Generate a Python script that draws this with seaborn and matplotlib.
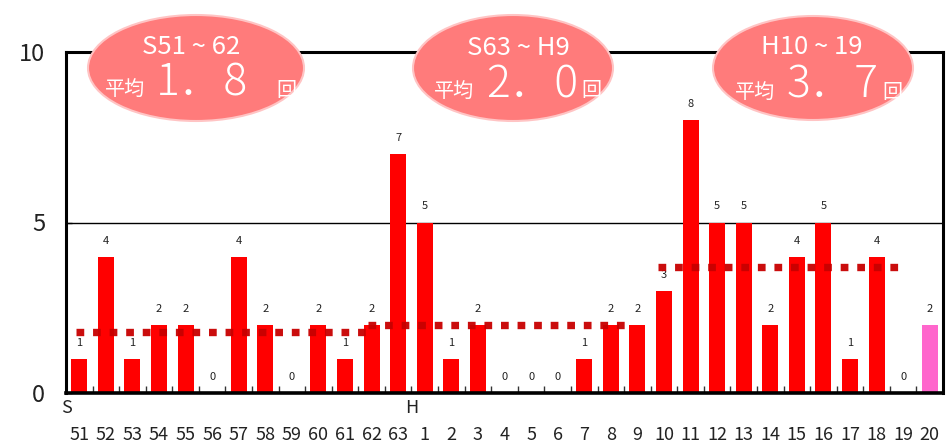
import matplotlib
matplotlib.use("Agg")
import matplotlib.pyplot as plt
from matplotlib.patches import Ellipse
import seaborn as sns
import pandas as pd

sns.set_style("white")
plt.rcParams["font.family"] = ["Noto Sans CJK JP", "DejaVu Sans"]

# Yearly counts, Showa 51-63 then Heisei 1-20
year_labels = ["51", "52", "53", "54", "55", "56", "57", "58", "59", "60", "61", "62", "63",
               "1", "2", "3", "4", "5", "6", "7", "8", "9", "10", "11", "12", "13", "14",
               "15", "16", "17", "18", "19", "20"]
counts = [1, 4, 1, 2, 2, 0, 4, 2, 0, 2, 1, 2, 7,
          5, 1, 2, 0, 0, 0, 1, 2, 2, 3, 8, 5, 5, 2,
          4, 5, 1, 4, 0, 2]
era_marks = ["S", "H"]
era_start_labels = ["51", "1"]

# Period averages
period_names = ["S51 ~ 62", "S63 ~ H9", "H10 ~ 19"]
period_avgs = [1.8, 2.0, 3.7]

df = pd.DataFrame({"year": year_labels, "count": counts})
bar_colors = ["#FF0000"] * (len(counts) - 1) + ["#FF66CC"]

W, H = 948, 447
fig = plt.figure(figsize=(W / 100, H / 100), dpi=100)
ax = fig.add_axes([66 / W, 1 - 393 / H, 877 / W, 341 / H])

sns.barplot(data=df, x="year", y="count", hue="year", palette=bar_colors,
            legend=False, width=0.6, saturation=1, linewidth=0, ax=ax, zorder=2)

ax.set_xlim(-0.5, len(counts) - 0.5)
ax.set_ylim(0, 10)
ax.set_xlabel("")
ax.set_ylabel("")

# value labels
for i, v in enumerate(counts):
    ax.text(i, v + 0.47, str(v), ha="center", va="center", fontsize=8,
            color="#222222", zorder=3)

# reference line at 5
ax.axhline(5, color="black", lw=1, zorder=1)

# dotted average lines per period
spans = [(-0.12, 10.8), (10.85, 20.8), (21.76, 30.85)]
for (x0, x1), avg in zip(spans, period_avgs):
    ax.plot([x0, x1], [avg, avg], color="#C80000", lw=5.3,
            linestyle=(0, (1.05, 1.2)), dash_capstyle="butt",
            solid_capstyle="butt", alpha=0.95, zorder=4)

# axes frame
for side in ["left", "right", "top", "bottom"]:
    ax.spines[side].set_visible(True)
    ax.spines[side].set_color("black")
    ax.spines[side].set_linewidth(2.2)
ax.spines["bottom"].set_linewidth(2.6)

ax.set_yticks([0, 5, 10])
ax.set_yticklabels(["0", "5", "10"], fontsize=17, color="#222222")
ax.tick_params(axis="y", direction="in", length=4, width=1, pad=15, left=True)
for t in ax.get_yticklabels():
    t.set_verticalalignment("center_baseline")

ax.set_xticks(range(len(counts)))
ax.set_xticklabels(year_labels, fontsize=13, color="#222222")
ax.tick_params(axis="x", which="major", length=0, pad=24)
ax.set_xticks([i + 0.5 for i in range(len(counts) - 1)], minor=True)
ax.tick_params(axis="x", which="minor", direction="in", length=5, width=1,
               bottom=True, color="#333333")

# era markers
for mark, lab in zip(era_marks, era_start_labels):
    idx = year_labels.index(lab)
    ax.text(idx - 0.5, -0.18, mark, ha="center", va="top", fontsize=13,
            color="#222222", transform=ax.transData, clip_on=False)

# callout ellipses drawn in pixel space
ov = fig.add_axes([0, 0, 1, 1], zorder=10)
ov.set_xlim(0, W)
ov.set_ylim(H, 0)
ov.axis("off")
ov.patch.set_alpha(0)

boxes = [
    dict(c=(196, 68), w=216, h=106, name=(191, 54), hei=(125, 89), num=(202, 96), kai=(286, 90)),
    dict(c=(513, 68), w=200, h=106, name=(518, 55), hei=(454, 91), num=(532, 97), kai=(591, 91)),
    dict(c=(813, 68), w=200, h=104, name=(812, 54), hei=(755, 92), num=(833, 97), kai=(892, 92)),
]
for b, name, avg in zip(boxes, period_names, period_avgs):
    ov.add_patch(Ellipse(b["c"], b["w"], b["h"], facecolor="#FF7B7B",
                         edgecolor="#FFC4C4", lw=1.5))
    ov.text(*b["name"], name, ha="center", va="baseline", fontsize=18.5, color="white")
    ov.text(*b["hei"], "平均", ha="center", va="center", fontsize=14.5, color="white")
    whole, frac = f"{avg:.1f}".split(".")
    ov.text(*b["num"], f"{whole}．{frac}", ha="center", va="baseline", fontsize=32,
            fontweight="light", color="white")
    ov.text(*b["kai"], "回", ha="center", va="center", fontsize=14.5, color="white")

fig.savefig("out.png", dpi=100)
